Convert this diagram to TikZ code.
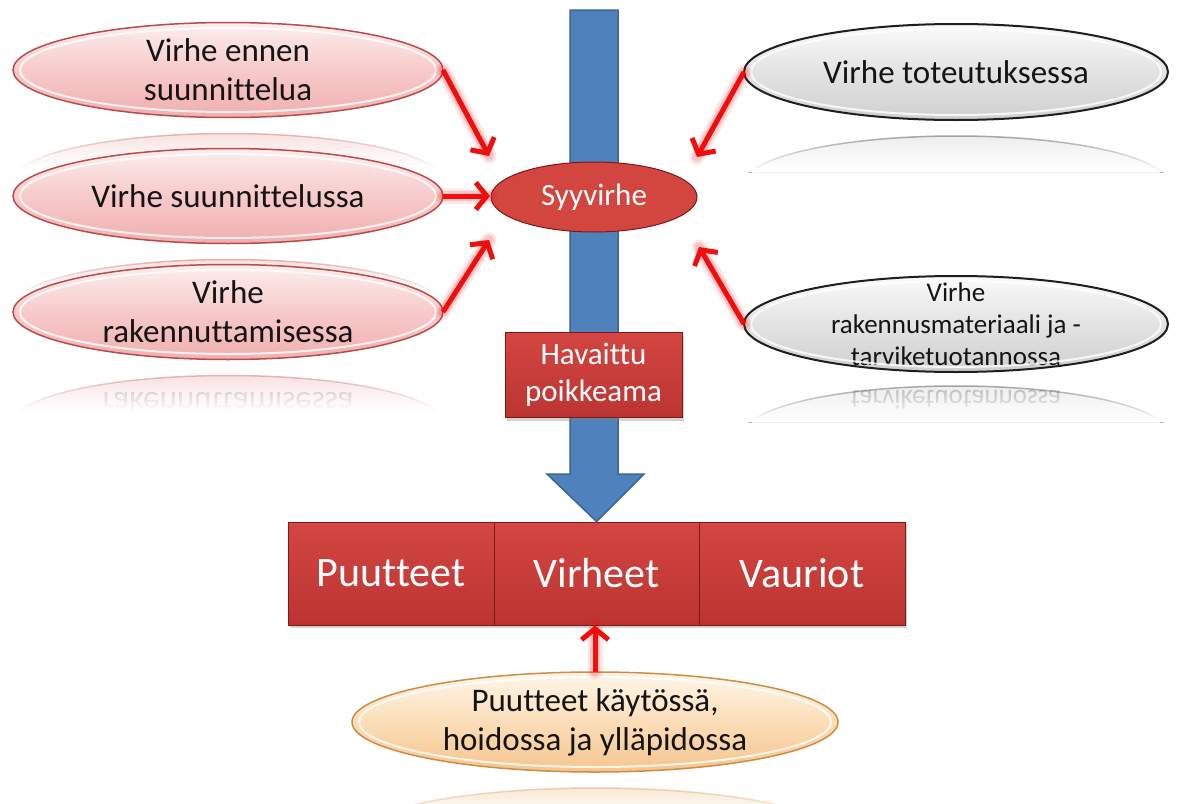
\documentclass[tikz,border=0pt]{standalone}
\usepackage{fontspec}
\setmainfont[Ligatures=CommonOff]{Carlito}
\usepackage{graphicx}
\usetikzlibrary{shapes.geometric,arrows.meta,shadows,fadings}

% palette
\definecolor{pinkTop}{HTML}{FCEEEE}
\definecolor{pinkMid}{HTML}{F7CACA}
\definecolor{pinkBot}{HTML}{F0AFAF}
\definecolor{pinkEdge}{HTML}{B84C4C}
\definecolor{grayTop}{HTML}{FAFAFA}
\definecolor{grayMid}{HTML}{E3E3E3}
\definecolor{grayBot}{HTML}{CFCFCF}
\definecolor{grayEdge}{HTML}{1E1E1E}
\definecolor{orangeTop}{HTML}{FFF6EA}
\definecolor{orangeMid}{HTML}{FBDDB8}
\definecolor{orangeBot}{HTML}{F5C58E}
\definecolor{orangeEdge}{HTML}{D08C44}
\definecolor{redIn}{HTML}{D2463F}
\definecolor{redOut}{HTML}{A3221E}
\definecolor{redTop}{HTML}{D34641}
\definecolor{redBot}{HTML}{BC3431}
\definecolor{redEdge}{HTML}{7E1816}
\definecolor{flowBlue}{HTML}{4F81BD}
\definecolor{flowEdge}{HTML}{3A6599}
\definecolor{arrowRed}{HTML}{F20D0D}
\definecolor{inkCol}{HTML}{141414}

% dark-rimmed fill of the root-cause ellipse
\pgfdeclareradialshading{redglow}{\pgfpoint{0bp}{0bp}}{color(0bp)=(redIn); color(30bp)=(redIn); color(48bp)=(redOut); color(50bp)=(redOut)}

\tikzfading[name=whiteout, top color=transparent!100, bottom color=transparent!0]

\tikzset{
  ellbase/.style={ellipse, inner sep=0pt, outer sep=0pt, line width=1.5pt},
  pinkell/.style={ellbase, draw=pinkEdge, top color=pinkTop, bottom color=pinkBot, middle color=pinkMid,
    minimum width=430pt, minimum height=95pt},
  grayell/.style={ellbase, draw=grayEdge, line width=2pt, top color=grayTop, bottom color=grayBot, middle color=grayMid,
    minimum width=424pt, minimum height=96pt},
  orangeell/.style={ellbase, draw=orangeEdge, top color=orangeTop, bottom color=orangeBot, middle color=orangeMid,
    minimum width=486pt, minimum height=100pt},
  causeell/.style={ellbase, shade, draw=redEdge, line width=1pt, shading=redglow, minimum width=206pt, minimum height=70pt,
    font=\fontsize{31}{37}\selectfont, text=white},
  ink/.style={font=\fontsize{33}{39}\selectfont, text=inkCol, align=center},
  inksmall/.style={font=\fontsize{27}{32}\selectfont, text=inkCol, align=center},
  redbox/.style={rectangle, draw=redEdge, line width=1pt, top color=redTop, bottom color=redBot,
    text=white, align=center, inner sep=0pt,
    drop shadow={opacity=0.35, shadow xshift=2pt, shadow yshift=-3pt}},
  gloss/.style={draw=white, opacity=0.8, line width=2pt},
  glow/.style={draw=arrowRed, line cap=round},
  redarrow/.style={draw=arrowRed, line width=5pt, -{Straight Barb[length=11pt,width=27pt]},
    preaction={glow, line width=15pt, opacity=0.10, -},
    preaction={glow, line width=10pt, opacity=0.16, -}},
}

% faded mirror image under an ellipse:
% #1 cx, #2 cy, #3 rx, #4 ry, #5 ellipse colours, #6 mirrored line, #7 its y
\newcommand{\mirrorell}[7]{%
  \begin{scope}
    \clip (#1-#3-4,#2+#4+8) rectangle (#1+#3+4,#2+#4+52);
    \path[#5, line width=1.5pt, opacity=0.45]
      (#1,#2+2*#4+16) ellipse [x radius=#3pt, y radius=#4pt];
    \node[text=inkCol, text opacity=0.3, inner sep=0pt] at (#1,2*#2+2*#4+16-#7) {\scalebox{1}[-1]{#6}};
    \fill[white, path fading=whiteout] (#1-#3-4,#2+#4+8) rectangle (#1+#3+4,#2+#4+52);
  \end{scope}}

\begin{document}
\begin{tikzpicture}[x=1pt,y=-1pt]
\useasboundingbox (0,0) rectangle (1191,803);
\fill[white] (0,0) rectangle (1191,803);

% reflections
\mirrorell{228}{70}{215}{47.5}{draw=pinkEdge, top color=pinkBot, bottom color=pinkTop}{}{0}
\mirrorell{228}{196}{215}{47.5}{draw=pinkEdge, top color=pinkBot, bottom color=pinkTop}{}{0}
\mirrorell{228}{312}{215}{47.5}{draw=pinkEdge, top color=pinkBot, bottom color=pinkTop}{\fontsize{33}{39}\selectfont rakennuttamisessa}{331}
\mirrorell{956}{72}{212}{48}{draw=grayEdge, top color=grayBot, bottom color=grayTop}{}{0}
\mirrorell{956}{322}{212}{48}{draw=grayEdge, top color=grayBot, bottom color=grayTop}{\fontsize{27}{32}\selectfont tarviketuotannossa}{356}
\mirrorell{595}{722}{243}{50}{draw=orangeEdge, top color=orangeBot, bottom color=orangeTop}{}{0}

% outcome boxes
\node[redbox, minimum width=206pt, minimum height=103pt, font=\fontsize{42}{49}\selectfont] (puutteet) at (391,573.5) {Puutteet};
\node[redbox, minimum width=205pt, minimum height=103pt, font=\fontsize{42}{49}\selectfont] (virheet) at (596.5,573.5) {Virheet};
\node[redbox, minimum width=206pt, minimum height=103pt, font=\fontsize{42}{49}\selectfont] (vauriot) at (802,573.5) {Vauriot};

% main flow arrow
\coordinate (flowtop) at (594,10);
\path[fill=flowBlue, draw=flowEdge, line width=1.5pt]
  (570,10) -- (618,10) -- (618,474) -- (644,474) -- (virheet.north) -- (547,474) -- (570,474) -- cycle;

% root cause and observed deviation
\node[causeell] (syy) at (594,197) {Syyvirhe};
\node[redbox, minimum width=177pt, minimum height=85pt, font=\fontsize{31}{37}\selectfont] (havaittu) at (593.5,375) {Havaittu\\poikkeama};

% cause ellipses
\node[pinkell, label={[ink]center:{Virhe ennen\\suunnittelua}}] (e1) at (228,70) {};
\node[pinkell, label={[ink]center:{Virhe suunnittelussa}}] (e2) at (228,196) {};
\node[pinkell, label={[ink]center:{Virhe\\rakennuttamisessa}}] (e3) at (228,312) {};
\node[grayell, label={[ink]center:{Virhe toteutuksessa}}] (e4) at (956,72) {};
\node[grayell, label={[inksmall]center:{Virhe\\rakennusmateriaali ja -\\tarviketuotannossa}}] (e5) at (956,324) {};
\node[orangeell, label={[ink]center:{Puutteet käytössä,\\hoidossa ja ylläpidossa}}] (e6) at (595,722) {};

% inner highlights
\foreach \n in {e1,e2,e3}{\draw[gloss] (\n.center) ellipse [x radius=208pt, y radius=42pt];}
\foreach \n in {e4,e5}{\draw[gloss] (\n.center) ellipse [x radius=205pt, y radius=43pt];}
\draw[gloss] (e6.center) ellipse [x radius=236pt, y radius=45pt];

% arrow targets around the root cause
\coordinate (t1) at (489,156);
\coordinate (t2) at (490,196);
\coordinate (t3) at (489,240);
\coordinate (t4) at (697,157);
\coordinate (t5) at (699,247);

\draw[redarrow] (e1.east) -- (t1);
\draw[redarrow] (e2.east) -- (t2);
\draw[redarrow] (e3.east) -- (t3);
\draw[redarrow] (e4.west) -- (t4);
\draw[redarrow] (e5.west) -- (t5);
\draw[redarrow] (e6.north) -- (e6.north |- virheet.south);
\end{tikzpicture}
\end{document}
